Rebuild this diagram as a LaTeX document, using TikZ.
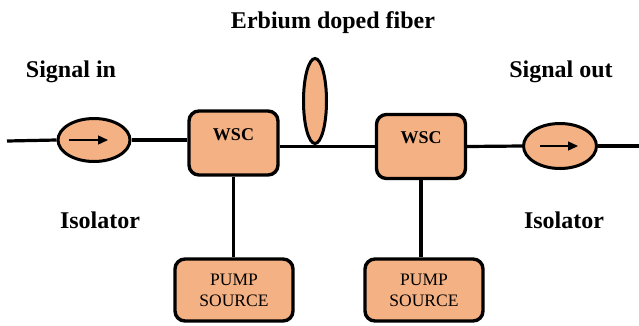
\documentclass[tikz,border=0pt]{standalone}
\usepackage{fontspec}
\setmainfont{Liberation Serif}
\usetikzlibrary{arrows.meta,positioning,shapes.geometric}
\definecolor{peach}{HTML}{F4B183}
\tikzset{
  wsc/.style={draw=black,fill=peach,rounded corners=10pt,line width=3.4pt,minimum width=89pt,minimum height=64pt,
    label={[anchor=north,yshift=-19pt,inner sep=0pt,font=\bfseries\fontsize{18}{21}\selectfont]north:WSC}},
  pump/.style={draw=black,fill=peach,rounded corners=10pt,line width=3.4pt,minimum width=118pt,minimum height=62pt,
    inner sep=0pt,align=center,font=\fontsize{17.5}{21}\selectfont},
  iso/.style={draw=black,fill=peach,ellipse,line width=3pt,minimum width=72pt,minimum height=43pt,inner sep=0pt},
  fiber/.style={draw=black,fill=peach,ellipse,line width=3pt,minimum width=23pt,minimum height=85pt,inner sep=0pt},
  wire/.style={line width=3.2pt},
  isoarrow/.style={-{Triangle[length=10pt,width=9pt]},line width=1.4pt},
  caption/.style={anchor=base,inner sep=0pt,font=\bfseries\fontsize{24}{28}\selectfont}
}
\begin{document}
\begin{tikzpicture}[x=1pt,y=-1pt]
    \useasboundingbox (0,0) rectangle (639,325);

    % optical path
    \coordinate (in) at (7,141);
    \coordinate (out) at (639,146);
    \node[iso] (iso1) at (94,140) {};
    \node[wsc] (wsc1) at (233.5,143) {};
    \node[fiber] (edf) at (315,101) {};
    \node[wsc] (wsc2) at (421,146.5) {};
    \node[iso,minimum width=73pt,minimum height=45pt] (iso2) at (560,146) {};

    % pump sources
    \node[pump] (pump1) at (234,290) {PUMP\\SOURCE};
    \node[pump] (pump2) at (424,290) {PUMP\\SOURCE};

    \draw[wire] (in) -- (iso1.west);
    \draw[wire] (iso1.east) -- (iso1.east -| wsc1.west);
    \draw[wire] (wsc1.east |- wsc2) -- (wsc2.west);
    \draw[wire] (wsc2.east) -- (iso2.west);
    \draw[wire] (iso2.east) -- (out);
    \draw[wire] (wsc1.south) -- (wsc1.south |- pump1.north);
    \draw[wire] (wsc2.south) -- (wsc2.south |- pump2.north);

    % isolator arrows
    \draw[isoarrow] ([xshift=-25pt]iso1.center) -- ([xshift=14pt]iso1.center);
    \draw[isoarrow] ([xshift=-20pt]iso2.center) -- ([xshift=18pt]iso2.center);

    % labels
    \node[caption] (edflabel) at (333,28) {Erbium doped fiber};
    \node[caption] (sigin) at (71,77) {Signal in};
    \node[caption] (sigout) at (561,77) {Signal out};
    \node[caption] (isolabel1) at (100,228) {Isolator};
    \node[caption] (isolabel2) at (564,228) {Isolator};
\end{tikzpicture}
\end{document}
